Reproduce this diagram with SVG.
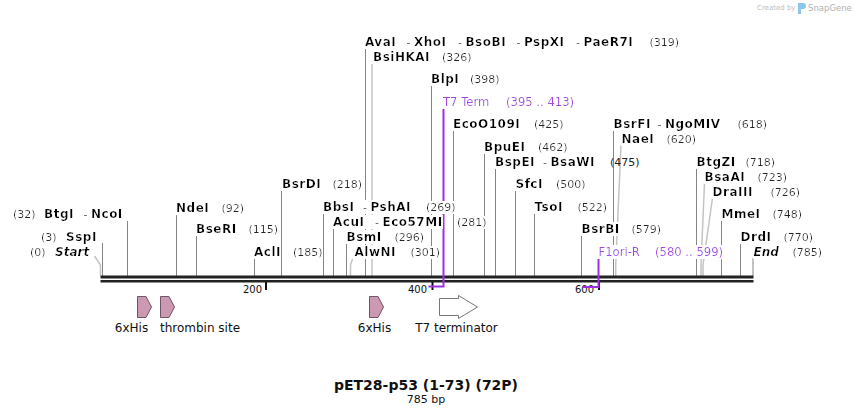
<svg xmlns="http://www.w3.org/2000/svg" width="854" height="415" viewBox="0 0 854 415">
<style>
text{font-family:"DejaVu Sans","Verdana",sans-serif;font-size:11px;fill:#111}
.b{font-weight:bold;font-size:12px;letter-spacing:0.5px;fill:#000}
.bi{font-weight:bold;font-style:italic;font-size:12px;fill:#000}
.n{fill:#222}
.p{fill:#a347e2;font-size:11.6px}
.f{font-size:12px}
.ln{stroke:#858585;stroke-width:1;fill:none}
.lt{stroke:#c4c4c4;stroke-width:1.5;fill:none}
.pl{stroke:#9b30e6;stroke-width:2;fill:none}
.his{fill:#cc99b3;stroke:#6f5565;stroke-width:1}
.bg{filter:url(#bg)}
</style>
<defs>
<filter id="bg" x="0" y="0" width="1" height="1"><feFlood flood-color="#ffffff"/><feComposite in="SourceGraphic"/></filter>
</defs>
<rect width="854" height="415" fill="#ffffff"/>

<g id="watermark">
<text x="757" y="10" style="font-size:7px;fill:#bdbdbd">Created by</text>
<path d="M798 3h5a3 3 0 0 1 0 6h-2v5h-3z" fill="#8cc6ec"/>
<text x="808" y="11" style="font-size:8.5px;fill:#b0b0b0">SnapGene</text>
</g>

<g id="connectors">
<polyline class="lt" points="94.5,256 100.5,265 100.5,276"/>
<line class="ln" x1="102.5" y1="243" x2="102.5" y2="276"/>
<line class="ln" x1="127.5" y1="221" x2="127.5" y2="276"/>
<line class="ln" x1="176.5" y1="215" x2="176.5" y2="276"/>
<line class="ln" x1="196.5" y1="236" x2="196.5" y2="276"/>
<line class="ln" x1="254.5" y1="259" x2="254.5" y2="276"/>
<line class="ln" x1="281.5" y1="191" x2="281.5" y2="276"/>
<line class="ln" x1="323.5" y1="214" x2="323.5" y2="276"/>
<line class="ln" x1="333.5" y1="229" x2="333.5" y2="276"/>
<line class="ln" x1="346.5" y1="244" x2="346.5" y2="276"/>
<polyline class="lt" points="352.5,259 350.5,265 350.5,276"/>
<line class="ln" x1="365.5" y1="49" x2="365.5" y2="276"/>
<line class="lt" x1="372" y1="64" x2="372" y2="276"/>
<line class="ln" x1="431.5" y1="86" x2="431.5" y2="276"/>
<line class="ln" x1="453.5" y1="130" x2="453.5" y2="276"/>
<line class="ln" x1="484.5" y1="153" x2="484.5" y2="276"/>
<line class="ln" x1="495.5" y1="168" x2="495.5" y2="276"/>
<line class="ln" x1="515.5" y1="190" x2="515.5" y2="276"/>
<line class="ln" x1="534.5" y1="213" x2="534.5" y2="276"/>
<line class="ln" x1="581.5" y1="235" x2="581.5" y2="276"/>
<line class="ln" x1="613.5" y1="130" x2="613.5" y2="276"/>
<polyline class="lt" points="621,145 615.7,265 615.7,276"/>
<line class="ln" x1="696.5" y1="168" x2="696.5" y2="276"/>
<polyline class="lt" points="704.5,183 701,265 701,276"/>
<polyline class="lt" points="712.5,198 703,265 703,276"/>
<line class="ln" x1="721.5" y1="220" x2="721.5" y2="276"/>
<line class="ln" x1="740.5" y1="243" x2="740.5" y2="276"/>
<line class="ln" x1="753" y1="258" x2="753" y2="276"/>
</g>

<g id="backbone">
<line x1="100.5" y1="277" x2="753.5" y2="277" stroke="#222" stroke-width="3"/>
<line x1="100.5" y1="281.3" x2="753.5" y2="281.3" stroke="#222" stroke-width="2.5"/>
<line x1="266" y1="282" x2="266" y2="290" stroke="#111" stroke-width="2"/>
<line x1="432.5" y1="282" x2="432.5" y2="290" stroke="#111" stroke-width="2"/>
<line x1="599" y1="282" x2="599" y2="290" stroke="#111" stroke-width="2"/>
<text x="262" y="293" text-anchor="end" style="font-size:10px">200</text>
<text x="427" y="293" text-anchor="end" style="font-size:10px">400</text>
<text x="594" y="293" text-anchor="end" style="font-size:10px">600</text>
</g>

<g id="primer-T7Term">
<polyline class="pl" points="443.5,108 443.5,286.5 428.5,286.5"/>
<text class="p bg" x="443" y="105.5">T7 Term</text>
<text class="p bg" x="506" y="105.5">(395 .. 413)</text>
</g>
<g id="primer-F1ori-R">
<polyline class="pl" points="598.5,259 598.5,287 582.5,287"/>
<text class="p bg" x="598.5" y="256">F1ori-R</text>
<text class="p bg" x="655" y="256">(580 .. 599)</text>
</g>

<g id="site-start"><text class="n bg" x="30" y="256">(0)</text><text class="bi bg" x="55" y="256">Start</text></g>
<g id="site-SspI"><text class="n bg" x="41" y="241">(3)</text><text class="b bg" x="66" y="241">SspI</text></g>
<g id="site-BtgI"><text class="n bg" x="13" y="218">(32)</text><text class="bg" x="44" y="218"><tspan class="b">BtgI</tspan><tspan x="83.5">- </tspan><tspan class="b">NcoI</tspan></text></g>
<g id="site-NdeI"><text class="b bg" x="176" y="212">NdeI</text><text class="n bg" x="221.5" y="212">(92)</text></g>
<g id="site-BseRI"><text class="b bg" x="196" y="233">BseRI</text><text class="n bg" x="248.5" y="233">(115)</text></g>
<g id="site-AclI"><text class="b bg" x="254" y="256">AclI</text><text class="n bg" x="293" y="256">(185)</text></g>
<g id="site-BsrDI"><text class="b bg" x="282" y="188">BsrDI</text><text class="n bg" x="332.5" y="188">(218)</text></g>
<g id="site-BbsI"><text class="bg" x="323" y="211"><tspan class="b">BbsI</tspan><tspan x="363">- </tspan><tspan class="b">PshAI</tspan></text><text class="n bg" x="426" y="211">(269)</text></g>
<g id="site-AcuI"><text class="bg" x="333" y="226"><tspan class="b">AcuI</tspan><tspan x="375">- </tspan><tspan class="b">Eco57MI</tspan></text><text class="n bg" x="457" y="226">(281)</text></g>
<g id="site-BsmI"><text class="b bg" x="346.5" y="241">BsmI</text><text class="n bg" x="394.5" y="241">(296)</text></g>
<g id="site-AlwNI"><text class="b bg" x="354.5" y="256">AlwNI</text><text class="n bg" x="410.5" y="256">(301)</text></g>
<g id="site-AvaI"><text class="bg" x="365" y="46"><tspan class="b">AvaI</tspan><tspan x="406.5">- </tspan><tspan class="b">XhoI</tspan><tspan x="458">- </tspan><tspan class="b">BsoBI</tspan><tspan x="516.5">- </tspan><tspan class="b">PspXI</tspan><tspan x="576">- </tspan><tspan class="b">PaeR7I</tspan></text><text class="n bg" x="649.5" y="46">(319)</text></g>
<g id="site-BsiHKAI"><text class="b bg" x="373" y="61">BsiHKAI</text><text class="n bg" x="442" y="61">(326)</text></g>
<g id="site-BlpI"><text class="b bg" x="431" y="83">BlpI</text><text class="n bg" x="470" y="83">(398)</text></g>
<g id="site-EcoO109I"><text class="b bg" x="453" y="128">EcoO109I</text><text class="n bg" x="534" y="128">(425)</text></g>
<g id="site-BpuEI"><text class="b bg" x="484" y="151">BpuEI</text><text class="n bg" x="538" y="151">(462)</text></g>
<g id="site-BspEI"><text class="bg" x="495" y="166"><tspan class="b">BspEI</tspan><tspan x="543">- </tspan><tspan class="b">BsaWI</tspan></text><text class="n" x="610" y="166">(475)</text></g>
<g id="site-SfcI"><text class="b bg" x="515.5" y="188">SfcI</text><text class="n bg" x="556" y="188">(500)</text></g>
<g id="site-TsoI"><text class="b bg" x="534.5" y="211">TsoI</text><text class="n bg" x="577.5" y="211">(522)</text></g>
<g id="site-BsrBI"><text class="b bg" x="581.5" y="233">BsrBI</text><text class="n bg" x="631.5" y="233">(579)</text></g>
<g id="site-BsrFI"><text class="bg" x="613.5" y="128"><tspan class="b">BsrFI</tspan><tspan x="657.5">- </tspan><tspan class="b">NgoMIV</tspan></text><text class="n bg" x="737.5" y="128">(618)</text></g>
<g id="site-NaeI"><text class="b bg" x="621.5" y="143">NaeI</text><text class="n bg" x="666.5" y="143">(620)</text></g>
<g id="site-BtgZI"><text class="b bg" x="696.5" y="166">BtgZI</text><text class="n bg" x="745.5" y="166">(718)</text></g>
<g id="site-BsaAI"><text class="b bg" x="704.5" y="181">BsaAI</text><text class="n bg" x="757.5" y="181">(723)</text></g>
<g id="site-DraIII"><text class="b bg" x="712.5" y="196">DraIII</text><text class="n bg" x="770.5" y="196">(726)</text></g>
<g id="site-MmeI"><text class="b bg" x="721.5" y="218">MmeI</text><text class="n bg" x="772.5" y="218">(748)</text></g>
<g id="site-DrdI"><text class="b bg" x="740.5" y="241">DrdI</text><text class="n bg" x="783.5" y="241">(770)</text></g>
<g id="site-end"><text class="bi bg" x="753.5" y="256">End</text><text class="n bg" x="792.5" y="256">(785)</text></g>

<g id="feature-6xHis-1">
<path class="his" d="M137.5,296.5 H146 L151.5,307 L146,317.5 H137.5 Z"/>
<text class="f" x="131.5" y="332" text-anchor="middle">6xHis</text>
</g>
<g id="feature-thrombin">
<path class="his" d="M160.5,296.5 H169 L174.5,307 L169,317.5 H160.5 Z"/>
<text class="f" x="200" y="332" text-anchor="middle">thrombin site</text>
</g>
<g id="feature-6xHis-2">
<path class="his" d="M369.5,296.5 H378 L383.5,307 L378,317.5 H369.5 Z"/>
<text class="f" x="374.5" y="332" text-anchor="middle">6xHis</text>
</g>
<g id="feature-T7terminator">
<path d="M439.5,298.5 H458.5 V295.5 L477.5,307 L458.5,318.5 V315.5 H439.5 Z" fill="#ffffff" stroke="#777" stroke-width="1"/>
<text class="f" x="456.5" y="332" text-anchor="middle">T7 terminator</text>
</g>

<g id="title">
<text x="426" y="390" text-anchor="middle" style="font-size:14px;font-weight:bold">pET28-p53 (1-73) (72P)</text>
<text x="426" y="403" text-anchor="middle">785 bp</text>
</g>
</svg>
